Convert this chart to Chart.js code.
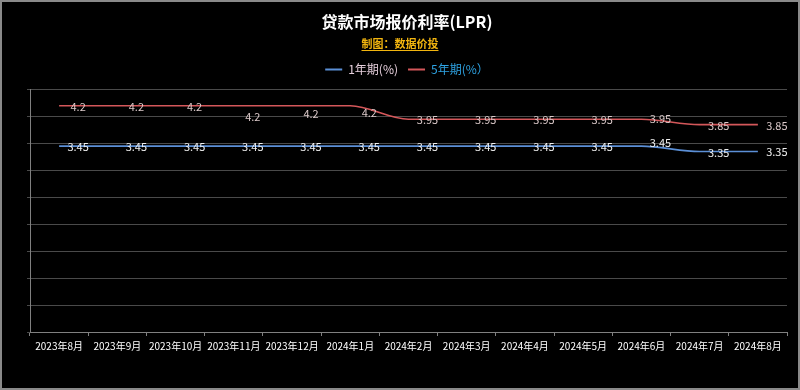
<!DOCTYPE html>
<html>
<head>
<meta charset="utf-8">
<script src="https://cdn.jsdelivr.net/npm/chart.js@4.4.1/dist/chart.umd.min.js"></script>
<style>
  html, body { margin: 0; padding: 0; background: #000; }
  #wrap { width: 800px; height: 390px; position: relative; }
</style>
</head>
<body>
<div id="wrap"><canvas id="lprChart" width="800" height="390"></canvas></div>
<script>
// 数据
const months = ['2023年8月', '2023年9月', '2023年10月', '2023年11月', '2023年12月', '2024年1月',
  '2024年2月', '2024年3月', '2024年4月', '2024年5月', '2024年6月', '2024年7月', '2024年8月'];
const lpr1y = [3.45, 3.45, 3.45, 3.45, 3.45, 3.45, 3.45, 3.45, 3.45, 3.45, 3.45, 3.35, 3.35];
const lpr5y = [4.2, 4.2, 4.2, 4.2, 4.2, 4.2, 3.95, 3.95, 3.95, 3.95, 3.95, 3.85, 3.85];

// 数据标签的上下微调 (px)
const nudge1y = [1, 1, 1, 1, 1, 1, 1, 1, 1, 1, -3, 1, 0];
const nudge5y = [1, 1, 1, 11, 8, 7, 1, 1, 1, 1, 0, 1, 1];

const fontFamily = '"Noto Sans CJK SC", "Noto Sans", sans-serif';
const subtitleText = '制图：数据价投';

// 数据标签
const valueLabels = {
  id: 'valueLabels',
  afterDatasetsDraw(chart) {
    const ctx = chart.ctx;
    ctx.save();
    ctx.font = '11px ' + fontFamily;
    ctx.textAlign = 'center';
    ctx.textBaseline = 'middle';
    chart.data.datasets.forEach((ds, i) => {
      const meta = chart.getDatasetMeta(i);
      meta.data.forEach((pt, j) => {
        ctx.fillStyle = ds.labelColor;
        ctx.fillText(String(ds.data[j]), pt.x + 19, pt.y + ds.nudge[j]);
      });
    });
    ctx.restore();
  }
};

// 图例下方多留一点空
const legendGap = {
  id: 'legendGap',
  beforeLayout(chart) {
    const lg = chart.legend;
    if (lg && !lg._gapPatched) {
      const fit = lg.fit;
      lg.fit = function () {
        fit.call(this);
        this.height += 4;
      };
      lg._gapPatched = true;
    }
  }
};

// 外框 + 带下划线的副标题
const frame = {
  id: 'frame',
  beforeDraw(chart) {
    const ctx = chart.ctx;
    ctx.save();
    ctx.fillStyle = '#000';
    ctx.fillRect(0, 0, chart.width, chart.height);
    ctx.strokeStyle = '#8a8a8a';
    ctx.lineWidth = 2;
    ctx.strokeRect(1, 1, chart.width - 2, chart.height - 2);
    ctx.restore();
  },
  afterDraw(chart) {
    const ctx = chart.ctx;
    ctx.save();
    ctx.font = 'bold 11px ' + fontFamily;
    ctx.fillStyle = '#f2b50f';
    ctx.textAlign = 'center';
    ctx.textBaseline = 'middle';
    const cx = chart.width / 2;
    ctx.fillText(subtitleText, cx, 44);
    const w = ctx.measureText(subtitleText).width;
    ctx.fillRect(cx - w / 2, 50, w, 1);
    ctx.restore();
  }
};

const ctx = document.getElementById('lprChart').getContext('2d');
new Chart(ctx, {
  type: 'line',
  data: {
    labels: months,
    datasets: [
      {
        label: '1年期(%)',
        data: lpr1y,
        borderColor: '#5b8fd6',
        backgroundColor: '#5b8fd6',
        borderWidth: 1.6,
        pointRadius: 0,
        cubicInterpolationMode: 'monotone',
        labelColor: '#f2f2f2',
        nudge: nudge1y,
        legendColor: '#e6cfdc'
      },
      {
        label: '5年期(%）',
        data: lpr5y,
        borderColor: '#d4575a',
        backgroundColor: '#d4575a',
        borderWidth: 1.6,
        pointRadius: 0,
        cubicInterpolationMode: 'monotone',
        labelColor: '#dccaca',
        nudge: nudge5y,
        legendColor: '#2ea3e3'
      }
    ]
  },
  options: {
    responsive: false,
    animation: false,
    layout: { padding: { left: 27, right: 13, bottom: 34 } },
    plugins: {
      title: {
        display: true,
        text: '贷款市场报价利率(LPR)',
        color: '#ffffff',
        font: { family: fontFamily, size: 16, weight: 'bold' },
        padding: { top: 12, bottom: 22.4 }
      },
      legend: {
        position: 'top',
        labels: {
          boxWidth: 17,
          boxHeight: 2,
          padding: 10,
          font: { family: fontFamily, size: 12 },
          generateLabels(chart) {
            return chart.data.datasets.map((ds, i) => ({
              text: ds.label,
              fillStyle: ds.borderColor,
              strokeStyle: ds.borderColor,
              lineWidth: 0,
              fontColor: ds.legendColor,
              datasetIndex: i,
              hidden: false
            }));
          }
        }
      },
      tooltip: { enabled: false }
    },
    scales: {
      x: {
        offset: true,
        grid: {
          offset: true,
          drawOnChartArea: false,
          color: '#808080',
          tickLength: 4
        },
        border: { color: '#808080', width: 1 },
        ticks: {
          color: '#ffffff',
          maxRotation: 0,
          autoSkip: false,
          padding: 4,
          font: { family: fontFamily, size: 10 }
        }
      },
      y: {
        min: 0,
        max: 4.5,
        grid: { color: '#4a4a4a', tickLength: 3 },
        border: { color: '#808080', width: 1 },
        ticks: { stepSize: 0.5, display: false }
      }
    }
  },
  plugins: [frame, legendGap, valueLabels]
});
</script>
</body>
</html>
